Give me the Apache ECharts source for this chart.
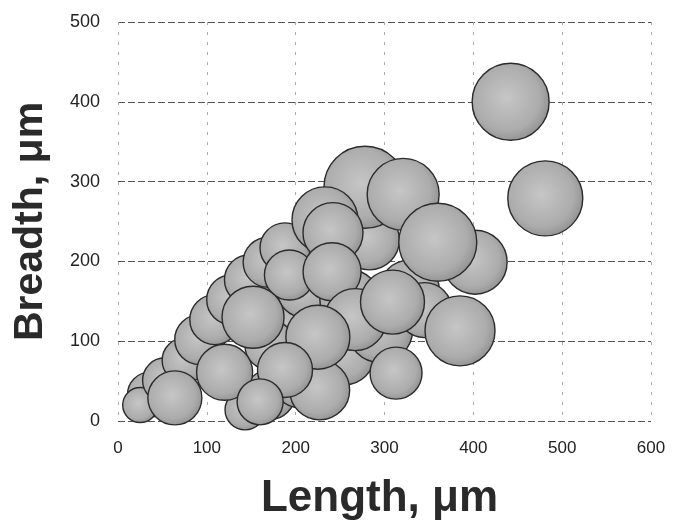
<!DOCTYPE html>
<html>
<head>
<meta charset="utf-8">
<script src="https://cdn.jsdelivr.net/npm/echarts@6/dist/echarts.min.js"></script>
<style>
html,body{margin:0;padding:0;background:#fff;}
#chart{width:673px;height:522px;}
</style>
</head>
<body>
<div id="chart"></div>
<script>
// Bubble data: length (µm), breadth (µm), bubble diameter (px), drawn back to front
var lengths = [36,25,53,75,92,109,128,148,169,188,143,171,205,193,171,210,193,261,255,295,283,328,345,227,
               278,233,242,321,402,360,241,267,309,385,313,225,152,188,120,160,64,442,481];
var breadths = [33,20,51,76,102,127,152,177,199,217,14,33,51,114,95,164,183,152,83,114,227,164,139,39,
                293,252,236,284,199,224,187,127,149,113,60,105,130,64,61,24,29,400,279];
var sizes = [45,35,45,45,50,50,50,50,50,50,40,50,55,55,50,55,50,60,60,65,60,60,55,60,
             82,66,60,72,64,78,58,62,64,70,52,64,62,55,56,46,54,77,75];
var xTicks = [0,100,200,300,400,500,600];
var yTicks = [0,100,200,300,400,500];

var data = lengths.map(function(v,i){ return [v, breadths[i], sizes[i]]; });

var chart = echarts.init(document.getElementById('chart'));
chart.setOption({
  animation:false,
  backgroundColor:'#ffffff',
  grid:{left:118, right:22, top:22, bottom:101, containLabel:false, outerBoundsMode:'none'},
  xAxis:{
    type:'value', min:xTicks[0], max:xTicks[xTicks.length-1], interval:100,
    name:'Length, μm', nameLocation:'middle', nameGap:56,
    nameTextStyle:{fontFamily:'Liberation Sans, Arial, sans-serif', fontSize:44, fontWeight:'bold', color:'#2a2a2a', padding:[0,10,0,0]},
    axisLine:{show:false}, axisTick:{show:false},
    axisLabel:{fontFamily:'Liberation Sans, Arial, sans-serif', fontSize:17, color:'#222', margin:19},
    splitLine:{show:true, lineStyle:{color:'#aaa', width:1, type:[3,7]}}
  },
  yAxis:{
    type:'value', min:yTicks[0], max:yTicks[yTicks.length-1], interval:100,
    name:'Breadth, μm', nameLocation:'middle', nameGap:67,
    nameTextStyle:{fontFamily:'Liberation Sans, Arial, sans-serif', fontSize:41, fontWeight:'bold', color:'#2a2a2a'},
    axisLine:{show:false}, axisTick:{show:false},
    axisLabel:{fontFamily:'Liberation Sans, Arial, sans-serif', fontSize:18, color:'#222', margin:18},
    splitLine:{show:true, lineStyle:{color:'#555', width:1, type:[7,3]}}
  },
  series:[{
    type:'scatter',
    data:data,
    symbolSize:function(d){ return d[2]; },
    itemStyle:{
      color:{type:'radial', x:0.45, y:0.45, r:0.6, colorStops:[
        {offset:0, color:'#c6c6c6'},{offset:0.7, color:'#acacac'},{offset:1, color:'#8c8c8c'}]},
      borderColor:'#2b2b2b', borderWidth:1.4, opacity:1
    }
  }]
});
</script>
</body>
</html>
